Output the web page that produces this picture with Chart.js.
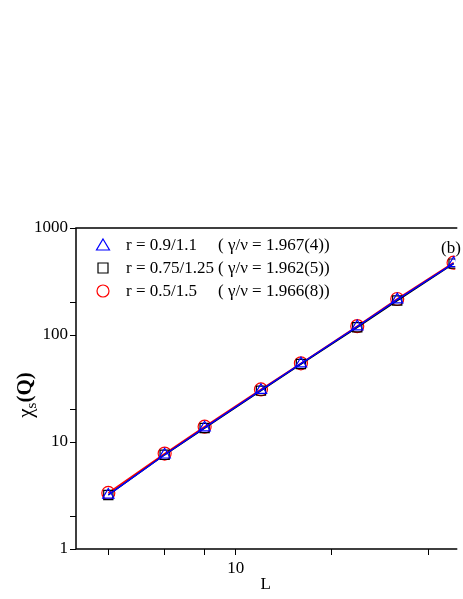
<!DOCTYPE html>
<html><head><meta charset="utf-8">
<script src="https://cdn.jsdelivr.net/npm/chart.js@4"></script>
<style>html,body{margin:0;padding:0;background:#fff}#c{display:block}</style>
</head><body>
<div style="width:463px;height:599px"><canvas id="c"></canvas></div>
<script>
const L = [4, 6, 8, 12, 16, 24, 32, 48];
const chiBlue = [3.2, 7.6, 13.6, 30.5, 54, 120, 214, 468];
const chiBlack = [3.2, 7.6, 13.5, 30.2, 53.5, 118, 210, 465];
const chiRed = [3.34, 7.8, 13.9, 31, 54.4, 121, 217, 474];
const legendR = ['r = 0.9/1.1', 'r = 0.75/1.25', 'r = 0.5/1.5'];
const legendG = ['( γ/ν = 1.967(4))', '( γ/ν = 1.962(5))', '( γ/ν = 1.966(8))'];
const xTicks = [4, 6, 8, 10, 20, 40];
const yTicks = [1, 2, 10, 20, 100, 200, 1000];
const F = 'Liberation Serif';
function pts(v){return L.map((x,i)=>({x, y:v[i]}));}
const ds = (label, data, color, style) => ({label, data: pts(data), borderColor: color, backgroundColor:'rgba(0,0,0,0)', pointStyle: style, pointRadius: 6.5, pointBorderWidth: 1.2, borderWidth: 1.5, pointBorderColor: color});
const deco = {
  id:'deco',
  afterDraw(ch){
    const c = ch.ctx, a = ch.chartArea;
    c.save();
    c.strokeStyle='#000'; c.lineWidth=1.5;
    c.beginPath(); c.moveTo(a.right+2,a.top); c.lineTo(a.left,a.top); c.lineTo(a.left,a.bottom); c.lineTo(a.right+2,a.bottom); c.stroke();
    const cols=['#0000ff','#000','#ff0000'];
    c.font='17px "'+F+'"'; c.textBaseline='middle'; c.fillStyle='#000';
    for(let i=0;i<3;i++){
      const y=245+i*23, x=103;
      c.strokeStyle=cols[i]; c.lineWidth=1.2; c.beginPath();
      if(i===0){c.moveTo(x,y-6);c.lineTo(x+6.5,y+5);c.lineTo(x-6.5,y+5);c.closePath();}
      else if(i===1){c.rect(x-5,y-5,10,10);}
      else {c.arc(x,y,6,0,Math.PI*2);}
      c.stroke();
      c.fillStyle='#000';
      c.fillText(legendR[i],126,y+1);
      c.fillText(legendG[i],218,y+1);
    }
    c.fillText('(b)',441,249);
    c.translate(26,395); c.rotate(-Math.PI/2);
    c.textAlign='left';
    c.font='21px "'+F+'"'; const w1=c.measureText('χ').width;
    c.font='bold 21px "'+F+'"'; const w3=c.measureText('(Q)').width;
    c.font='15px "'+F+'"'; const w2=c.measureText('s').width;
    const tot=w1+w2+w3; let x0=-tot/2;
    c.font='21px "'+F+'"'; c.fillText('χ',x0,0); x0+=w1;
    c.font='15px "'+F+'"'; c.fillText('s',x0,6); x0+=w2;
    c.font='bold 21px "'+F+'"'; c.fillText('(Q)',x0,0);
    c.restore();
  }
};
new Chart(document.getElementById('c'), {
  type:'line',
  data:{datasets:[ds('b',chiBlue,'#0000ff','triangle'),ds('k',chiBlack,'#000','rect'),ds('r',chiRed,'#ff0000','circle')]},
  options:{
    responsive:true, maintainAspectRatio:false, animation:false,
    layout:{padding:{top:228,right:-5,left:0,bottom:0}},
    plugins:{legend:{display:false},tooltip:{enabled:false}},
    scales:{
      x:{type:'logarithmic',min:3.17,max:48.6,
        afterBuildTicks(s){s.ticks=xTicks.map(v=>({value:v}));},
        afterFit(s){s.height=50;},
        grid:{drawOnChartArea:false,tickLength:6,color:'#000',tickColor:'#000'},border:{display:false},
        ticks:{autoSkip:false,maxRotation:0,color:'#000',font:{family:F,size:17},callback:v=>v===10?'10':''},
        title:{display:true,text:'L',color:'#000',font:{family:F,size:17},padding:{top:2}}},
      y:{type:'logarithmic',min:1,max:1000,
        afterBuildTicks(s){s.ticks=yTicks.map(v=>({value:v}));},
        afterFit(s){s.width=76;},
        grid:{drawOnChartArea:false,tickLength:6,color:'#000',tickColor:'#000'},border:{display:false},
        ticks:{autoSkip:false,color:'#000',font:{family:F,size:17},padding:2,callback:v=>[1,10,100,1000].includes(v)?String(v):''}}
    }
  },
  plugins:[deco]
});
</script>
</body></html>
